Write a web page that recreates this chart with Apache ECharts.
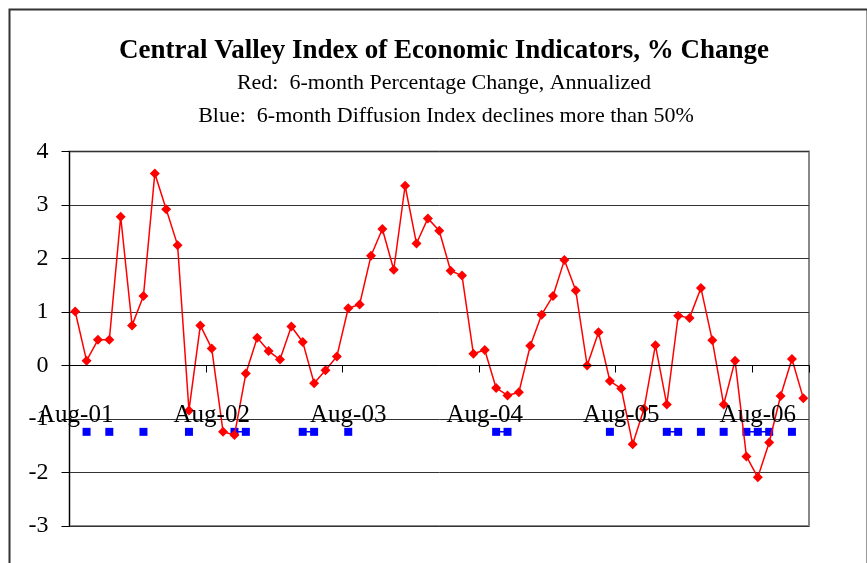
<!DOCTYPE html>
<html>
<head>
<meta charset="utf-8">
<script src="https://cdn.jsdelivr.net/npm/echarts@6/dist/echarts.min.js"></script>
<style>html,body{margin:0;padding:0;background:#fff;}#c{width:867px;height:563px;}</style>
</head>
<body>
<div id="c"></div>
<script>
var categories = [
 'Aug-01','Sep-01','Oct-01','Nov-01','Dec-01',
 'Jan-02','Feb-02','Mar-02','Apr-02','May-02','Jun-02','Jul-02','Aug-02','Sep-02','Oct-02','Nov-02','Dec-02',
 'Jan-03','Feb-03','Mar-03','Apr-03','May-03','Jun-03','Jul-03','Aug-03','Sep-03','Oct-03','Nov-03','Dec-03',
 'Jan-04','Feb-04','Mar-04','Apr-04','May-04','Jun-04','Jul-04','Aug-04','Sep-04','Oct-04','Nov-04','Dec-04',
 'Jan-05','Feb-05','Mar-05','Apr-05','May-05','Jun-05','Jul-05','Aug-05','Sep-05','Oct-05','Nov-05','Dec-05',
 'Jan-06','Feb-06','Mar-06','Apr-06','May-06','Jun-06','Jul-06','Aug-06','Sep-06','Oct-06','Nov-06','Dec-06'
];
var redValues = [
 1.01, 0.09, 0.48, 0.48, 2.78,
 0.75, 1.30, 3.59, 2.92, 2.25, -0.84, 0.75, 0.32, -1.24, -1.30, -0.15, 0.52,
 0.27, 0.11, 0.73, 0.44, -0.33, -0.09, 0.17, 1.07, 1.14, 2.05, 2.55, 1.79,
 3.36, 2.28, 2.75, 2.52, 1.77, 1.68, 0.22, 0.29, -0.42, -0.56, -0.50, 0.37,
 0.95, 1.30, 1.97, 1.40, 0.00, 0.62, -0.29, -0.43, -1.47, -0.81, 0.38, -0.73,
 0.93, 0.89, 1.45, 0.47, -0.73, 0.09, -1.70, -2.09, -1.44, -0.57, 0.12, -0.61
];
var blueLevel = -1.24;
var blueMonths = ['Sep-01','Nov-01','Feb-02','Jun-02','Oct-02','Nov-02','Apr-03','May-03','Aug-03',
 'Sep-04','Oct-04','Jul-05','Dec-05','Jan-06','Mar-06','May-06','Jul-06','Aug-06','Sep-06','Nov-06'];
var yTicks = [-3, -2, -1, 0, 1, 2, 3, 4];

var blueValues = categories.map(function (c) { return blueMonths.indexOf(c) >= 0 ? blueLevel : null; });

var serif = '"Liberation Serif", "DejaVu Serif", serif';
var chart = echarts.init(document.getElementById('c'), null, {renderer: 'canvas'});
chart.setOption({
  animation: false,
  backgroundColor: '#fff',
  title: [
    {text: 'Central Valley Index of Economic Indicators, % Change', left: 439, textAlign: 'center', top: 33,
     textStyle: {fontFamily: serif, fontSize: 27, fontWeight: 'bold', color: '#000'}},
    {text: 'Red:  6-month Percentage Change, Annualized', left: 439, textAlign: 'center', top: 67,
     textStyle: {fontFamily: serif, fontSize: 22, fontWeight: 'normal', color: '#000'}},
    {text: 'Blue:  6-month Diffusion Index declines more than 50%', left: 441, textAlign: 'center', top: 100,
     textStyle: {fontFamily: serif, fontSize: 22, fontWeight: 'normal', color: '#000'}}
  ],
  graphic: [{
    type: 'rect', left: 7, top: 7, z: -1,
    shape: {x: 0, y: 0, width: 858, height: 600},
    style: {fill: 'none', stroke: '#333', lineWidth: 2}
  }],
  grid: {left: 69.5, right: 58, top: 151.5, bottom: 37, containLabel: false, outerBoundsMode: 'none',
         show: true, borderColor: '#888', borderWidth: 2, backgroundColor: 'transparent'},
  xAxis: {
    type: 'category', data: categories, boundaryGap: true, z: 4,
    axisLine: {show: true, onZero: true, lineStyle: {color: '#000', width: 1}},
    axisTick: {show: true, interval: 11, length: 7, inside: false, alignWithLabel: false, lineStyle: {color: '#000'}},
    axisLabel: {interval: 11, margin: -123, fontFamily: serif, fontSize: 25, color: '#000'},
    splitLine: {show: false}
  },
  yAxis: {
    type: 'value', min: yTicks[0], max: yTicks[yTicks.length - 1], interval: 1,
    axisLine: {show: true, onZero: false, lineStyle: {color: '#000', width: 1}},
    axisTick: {show: true, length: 8, lineStyle: {color: '#000'}},
    axisLabel: {margin: 21, fontFamily: serif, fontSize: 24, color: '#000'},
    splitLine: {show: true, lineStyle: {color: '#333', width: 1}}
  },
  series: [
    {
      type: 'line', name: 'Red', data: redValues, z: 3,
      symbol: 'diamond', symbolSize: 10, showAllSymbol: true,
      lineStyle: {color: '#ff0000', width: 1.5},
      itemStyle: {color: '#ff0000'}
    },
    {
      type: 'line', name: 'Blue', data: blueValues, connectNulls: false, z: 2,
      symbol: 'rect', symbolSize: 8, showAllSymbol: true,
      lineStyle: {color: '#0000ff', width: 1.5},
      itemStyle: {color: '#0000ff'}
    }
  ]
});
</script>
</body>
</html>
